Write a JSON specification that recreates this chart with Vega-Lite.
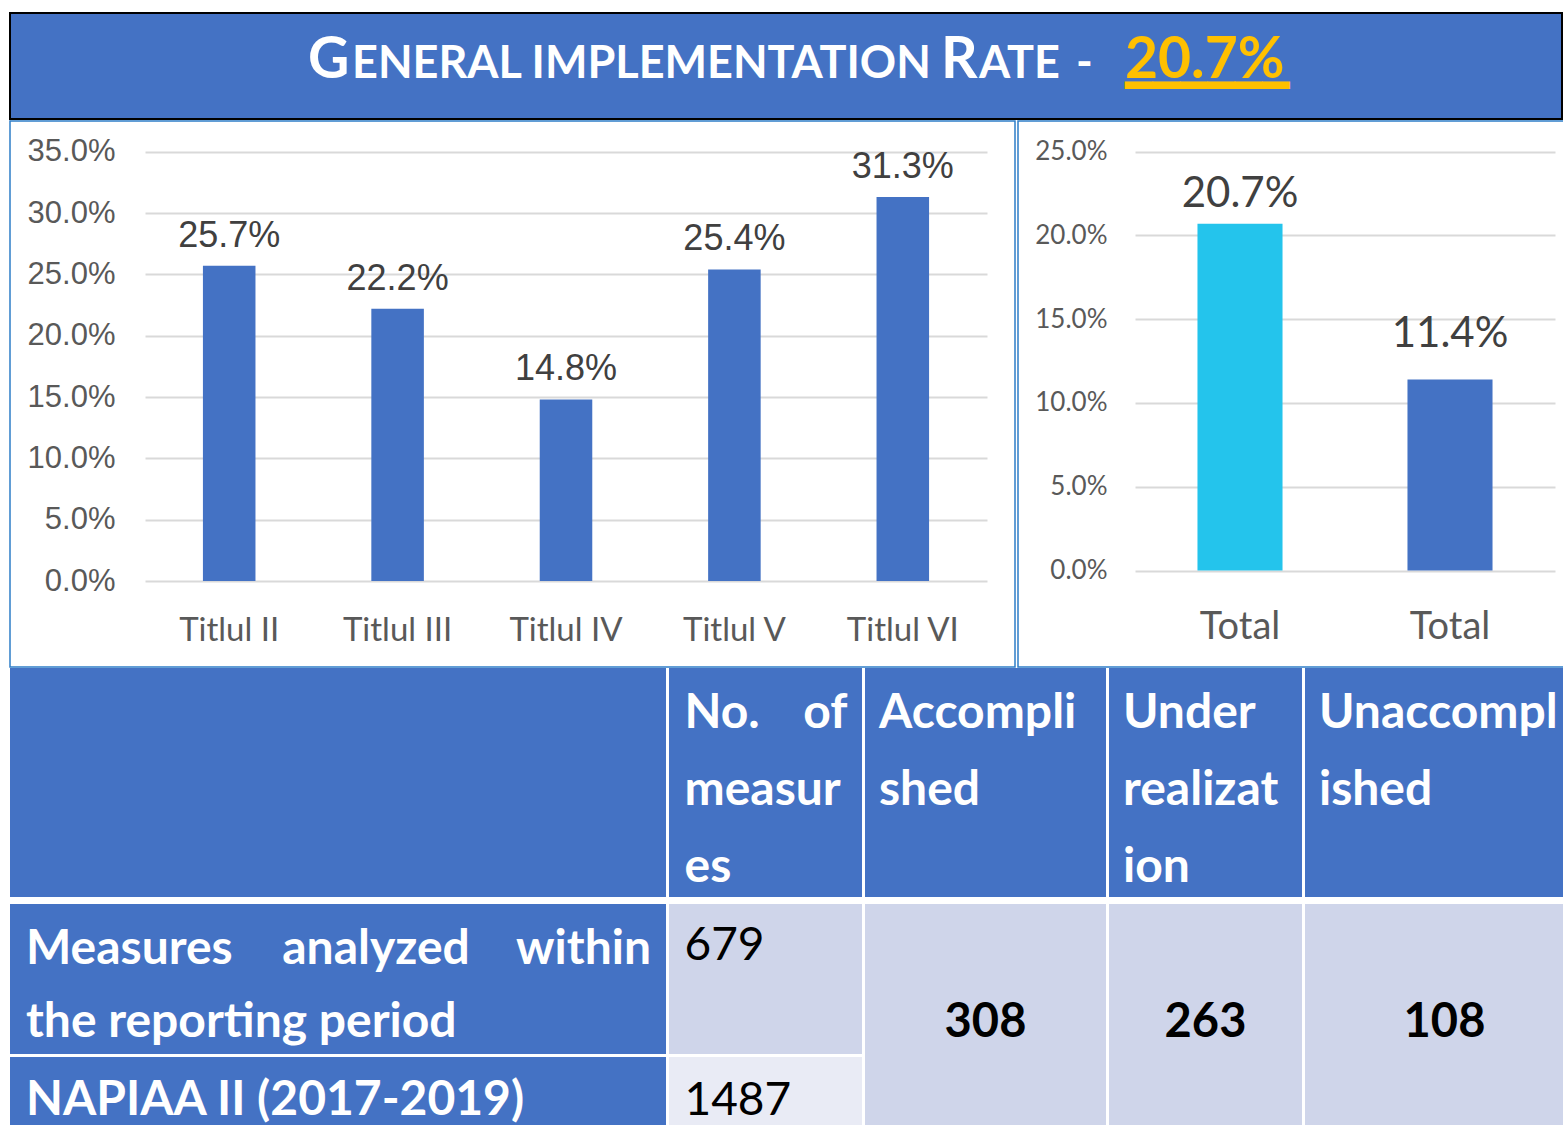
{
  "$schema": "https://vega.github.io/schema/vega-lite/v6.json",
  "padding": {"left": 9, "top": 12, "right": 0, "bottom": 0},
  "background": "white",
  "spacing": 0,
  "config": {"view": {"stroke": null}, "font": "Lato"},
  "datasets": {
    "headline": [{"title": "General implementation rate", "rate": 0.207}],
    "titles": [
      {"title": "Titlul II", "rate": 0.257},
      {"title": "Titlul III", "rate": 0.222},
      {"title": "Titlul IV", "rate": 0.148},
      {"title": "Titlul V", "rate": 0.254},
      {"title": "Titlul VI", "rate": 0.313}
    ],
    "totals": [
      {"bar": "Total (1)", "rate": 0.207},
      {"bar": "Total (2)", "rate": 0.114}
    ],
    "measures": [
      {"group": "Measures analyzed within the reporting period", "count": 679},
      {"group": "NAPIAA II (2017-2019)", "count": 1487}
    ],
    "status": [
      {"status": "Accomplished", "count": 308},
      {"status": "Under realization", "count": 263},
      {"status": "Unaccomplished", "count": 108}
    ]
  },
  "vconcat": [
    {
      "width": 1552, "height": 106,
      "view": {"fill": "#4472C4", "stroke": "#000000", "strokeWidth": 2},
      "data": {"name": "headline"},
      "layer": [
        {"mark": {"type": "text", "text": "G", "align": "left", "baseline": "alphabetic", "dx": -478, "dy": 12, "font": "Lato", "fontWeight": "bold", "fontSize": 57, "color": "white"}},
        {"mark": {"type": "text", "text": "ENERAL IMPLEMENTATION", "align": "left", "baseline": "alphabetic", "dx": -434, "dy": 12, "font": "Lato", "fontWeight": "bold", "fontSize": 45, "color": "white"}},
        {"mark": {"type": "text", "text": "R", "align": "left", "baseline": "alphabetic", "dx": 155, "dy": 12, "font": "Lato", "fontWeight": "bold", "fontSize": 57, "color": "white"}},
        {"mark": {"type": "text", "text": "ATE", "align": "left", "baseline": "alphabetic", "dx": 193, "dy": 12, "font": "Lato", "fontWeight": "bold", "fontSize": 45, "color": "white"}},
        {"mark": {"type": "text", "text": "-", "align": "left", "baseline": "alphabetic", "dx": 290, "dy": 12, "font": "Lato", "fontWeight": "bold", "fontSize": 45, "color": "white"}},
        {"mark": {"type": "text", "align": "left", "baseline": "alphabetic", "dx": 339, "dy": 12, "font": "Lato", "fontWeight": "bold", "fontSize": 57, "color": "#FFC000"},
         "encoding": {"text": {"field": "rate", "type": "quantitative", "format": ".1%"}}},
        {"mark": {"type": "text", "text": "━━━━━━", "align": "left", "baseline": "alphabetic", "dx": 339, "dy": 35, "font": "DejaVu Sans", "fontSize": 45.5, "color": "#FFC000"}}
      ]
    },
    {
      "hconcat": [
        {
          "width": 1005, "height": 546,
          "view": {"fill": "white", "stroke": "#2E7EC8", "strokeWidth": 1.5},
          "data": {"name": "titles"},
          "encoding": {
            "x": {"field": "title", "type": "nominal", "sort": null,
                  "scale": {"range": [135, 977], "paddingInner": 0.688, "paddingOuter": 0.344},
                  "axis": {"orient": "bottom", "offset": -86, "title": null, "labelAngle": 0, "domain": false, "ticks": false, "labelPadding": 33, "labelFont": "Lato", "labelFontSize": 33, "labelColor": "#595959", "grid": false}},
            "y": {"field": "rate", "type": "quantitative",
                  "scale": {"domain": [0, 0.35], "range": [460, 30.7], "nice": false},
                  "axis": {"orient": "left", "offset": -135, "title": null, "format": ".1%", "values": [0, 0.05, 0.1, 0.15, 0.2, 0.25, 0.3, 0.35], "domain": false, "ticks": false, "labelPadding": 30, "labelFont": "Liberation Sans", "labelFontSize": 31, "labelColor": "#595959", "grid": true, "gridColor": "#D9D9D9", "gridWidth": 2}}
          },
          "layer": [
            {"mark": {"type": "bar", "color": "#4472C4"}},
            {"mark": {"type": "text", "baseline": "alphabetic", "dy": -19, "font": "Liberation Sans", "fontSize": 36, "color": "#404040"},
             "encoding": {"text": {"field": "rate", "type": "quantitative", "format": ".1%"}}}
          ]
        },
        {
          "width": 546, "height": 546,
          "view": {"fill": "white", "stroke": "#2E7EC8", "strokeWidth": 1.5},
          "data": {"name": "totals"},
          "encoding": {
            "x": {"field": "bar", "type": "nominal", "sort": null,
                  "scale": {"range": [117, 537], "paddingInner": 0.595, "paddingOuter": 0.2975},
                  "axis": {"orient": "bottom", "offset": -96.5, "title": null, "labelAngle": 0, "labelExpr": "'Total'", "domain": false, "ticks": false, "labelPadding": 38, "labelFont": "Lato", "labelFontSize": 38, "labelColor": "#595959", "grid": false}},
            "y": {"field": "rate", "type": "quantitative",
                  "scale": {"domain": [0, 0.25], "range": [449.5, 30.7], "nice": false},
                  "axis": {"orient": "left", "offset": -117, "title": null, "format": ".1%", "values": [0, 0.05, 0.1, 0.15, 0.2, 0.25], "domain": false, "ticks": false, "labelPadding": 28, "labelFont": "Lato", "labelFontSize": 26, "labelColor": "#595959", "grid": true, "gridColor": "#D9D9D9", "gridWidth": 2}}
          },
          "layer": [
            {"mark": {"type": "bar"},
             "encoding": {"color": {"field": "bar", "type": "nominal", "scale": {"range": ["#24C4EC", "#4472C4"]}, "legend": null}}},
            {"transform": [{"filter": "datum.bar === 'Total (1)'"}],
             "mark": {"type": "text", "baseline": "alphabetic", "dy": -17, "font": "Lato", "fontSize": 42, "color": "#404040"},
             "encoding": {"text": {"field": "rate", "type": "quantitative", "format": ".1%"}}},
            {"transform": [{"filter": "datum.bar === 'Total (2)'"}],
             "mark": {"type": "text", "baseline": "alphabetic", "dy": -33, "font": "Lato", "fontSize": 42, "color": "#404040"},
             "encoding": {"text": {"field": "rate", "type": "quantitative", "format": ".1%"}}}
          ]
        }
      ],
      "spacing": 1
    },
    {
      "hconcat": [
        {
          "vconcat": [
            {"width": 656, "height": 229, "view": {"fill": "#4472C4", "stroke": null}, "data": {"values": [{}]}, "mark": {"type": "text", "text": ""}},
            {
              "vconcat": [
                {
                  "width": 656, "height": 150, "view": {"fill": "#4472C4", "stroke": null},
                  "data": {"name": "measures"},
                  "transform": [{"filter": "datum.count === 679"}],
                  "layer": [
                    {"mark": {"type": "text", "text": "Measures", "align": "left", "baseline": "alphabetic", "dx": -312, "dy": -15, "fontWeight": "bold", "fontSize": 48, "color": "white"}},
                    {"mark": {"type": "text", "text": "analyzed", "align": "center", "baseline": "alphabetic", "dx": 38, "dy": -15, "fontWeight": "bold", "fontSize": 48, "color": "white"}},
                    {"mark": {"type": "text", "text": "within", "align": "right", "baseline": "alphabetic", "dx": 313, "dy": -15, "fontWeight": "bold", "fontSize": 48, "color": "white"}},
                    {"mark": {"type": "text", "text": "the reporting period", "align": "left", "baseline": "alphabetic", "dx": -312, "dy": 58, "fontWeight": "bold", "fontSize": 48, "color": "white"}}
                  ]
                },
                {
                  "width": 656, "height": 70, "view": {"fill": "#4472C4", "stroke": null},
                  "data": {"name": "measures"},
                  "transform": [{"filter": "datum.group === 'NAPIAA II (2017-2019)'"}],
                  "mark": {"type": "text", "align": "left", "baseline": "alphabetic", "dx": -312, "dy": 23, "fontWeight": "bold", "fontSize": 48, "color": "white"},
                  "encoding": {"text": {"field": "group", "type": "nominal"}}
                }
              ],
              "spacing": 3
            }
          ],
          "spacing": 7
        },
        {
          "vconcat": [
            {
              "width": 193, "height": 229, "view": {"fill": "#4472C4", "stroke": null},
              "data": {"values": [{}]},
              "layer": [
                {"mark": {"type": "text", "text": "No.", "align": "left", "baseline": "alphabetic", "dx": -81, "dy": -54.5, "fontWeight": "bold", "fontSize": 48, "color": "white"}},
                {"mark": {"type": "text", "text": "of", "align": "right", "baseline": "alphabetic", "dx": 82, "dy": -54.5, "fontWeight": "bold", "fontSize": 48, "color": "white"}},
                {"mark": {"type": "text", "text": "measur", "align": "left", "baseline": "alphabetic", "dx": -81, "dy": 22.5, "fontWeight": "bold", "fontSize": 48, "color": "white"}},
                {"mark": {"type": "text", "text": "es", "align": "left", "baseline": "alphabetic", "dx": -81, "dy": 99.5, "fontWeight": "bold", "fontSize": 48, "color": "white"}}
              ]
            },
            {
              "vconcat": [
                {
                  "width": 193, "height": 150, "view": {"fill": "#CFD5EA", "stroke": null},
                  "data": {"name": "measures"},
                  "transform": [{"filter": "datum.group === 'Measures analyzed within the reporting period'"}],
                  "mark": {"type": "text", "align": "left", "baseline": "alphabetic", "dx": -81, "dy": -19, "fontSize": 46, "color": "black"},
                  "encoding": {"text": {"field": "count", "type": "quantitative"}}
                },
                {
                  "width": 193, "height": 70, "view": {"fill": "#E9EBF5", "stroke": null},
                  "data": {"name": "measures"},
                  "transform": [{"filter": "datum.group === 'NAPIAA II (2017-2019)'"}],
                  "mark": {"type": "text", "align": "left", "baseline": "alphabetic", "dx": -81, "dy": 23, "fontSize": 46, "color": "black"},
                  "encoding": {"text": {"field": "count", "type": "quantitative"}}
                }
              ],
              "spacing": 3
            }
          ],
          "spacing": 7
        },
        {
          "vconcat": [
            {
              "width": 241, "height": 229, "view": {"fill": "#4472C4", "stroke": null},
              "data": {"values": [{}]},
              "layer": [
                {"mark": {"type": "text", "text": "Accompli", "align": "left", "baseline": "alphabetic", "dx": -106.5, "dy": -54.5, "fontWeight": "bold", "fontSize": 48, "color": "white"}},
                {"mark": {"type": "text", "text": "shed", "align": "left", "baseline": "alphabetic", "dx": -106.5, "dy": 22.5, "fontWeight": "bold", "fontSize": 48, "color": "white"}}
              ]
            },
            {
              "width": 241, "height": 223, "view": {"fill": "#CFD5EA", "stroke": null},
              "data": {"name": "status"},
              "transform": [{"filter": "datum.status === 'Accomplished'"}],
              "mark": {"type": "text", "align": "center", "baseline": "alphabetic", "dy": 21.5, "fontWeight": "bold", "fontSize": 47, "color": "black"},
              "encoding": {"text": {"field": "count", "type": "quantitative"}}
            }
          ],
          "spacing": 7
        },
        {
          "vconcat": [
            {
              "width": 193, "height": 229, "view": {"fill": "#4472C4", "stroke": null},
              "data": {"values": [{}]},
              "layer": [
                {"mark": {"type": "text", "text": "Under", "align": "left", "baseline": "alphabetic", "dx": -82.5, "dy": -54.5, "fontWeight": "bold", "fontSize": 48, "color": "white"}},
                {"mark": {"type": "text", "text": "realizat", "align": "left", "baseline": "alphabetic", "dx": -82.5, "dy": 22.5, "fontWeight": "bold", "fontSize": 48, "color": "white"}},
                {"mark": {"type": "text", "text": "ion", "align": "left", "baseline": "alphabetic", "dx": -82.5, "dy": 99.5, "fontWeight": "bold", "fontSize": 48, "color": "white"}}
              ]
            },
            {
              "width": 193, "height": 223, "view": {"fill": "#CFD5EA", "stroke": null},
              "data": {"name": "status"},
              "transform": [{"filter": "datum.status === 'Under realization'"}],
              "mark": {"type": "text", "align": "center", "baseline": "alphabetic", "dy": 21.5, "fontWeight": "bold", "fontSize": 47, "color": "black"},
              "encoding": {"text": {"field": "count", "type": "quantitative"}}
            }
          ],
          "spacing": 7
        },
        {
          "vconcat": [
            {
              "width": 259, "height": 229, "view": {"fill": "#4472C4", "stroke": null},
              "data": {"values": [{}]},
              "layer": [
                {"mark": {"type": "text", "text": "Unaccompl", "align": "left", "baseline": "alphabetic", "dx": -115.5, "dy": -54.5, "fontWeight": "bold", "fontSize": 48, "color": "white", "clip": true}},
                {"mark": {"type": "text", "text": "ished", "align": "left", "baseline": "alphabetic", "dx": -115.5, "dy": 22.5, "fontWeight": "bold", "fontSize": 48, "color": "white"}}
              ]
            },
            {
              "width": 259, "height": 223, "view": {"fill": "#CFD5EA", "stroke": null},
              "data": {"name": "status"},
              "transform": [{"filter": "datum.status === 'Unaccomplished'"}],
              "mark": {"type": "text", "align": "center", "baseline": "alphabetic", "dx": 10, "dy": 21.5, "fontWeight": "bold", "fontSize": 47, "color": "black"},
              "encoding": {"text": {"field": "count", "type": "quantitative"}}
            }
          ],
          "spacing": 7
        }
      ],
      "spacing": 3
    }
  ]
}
